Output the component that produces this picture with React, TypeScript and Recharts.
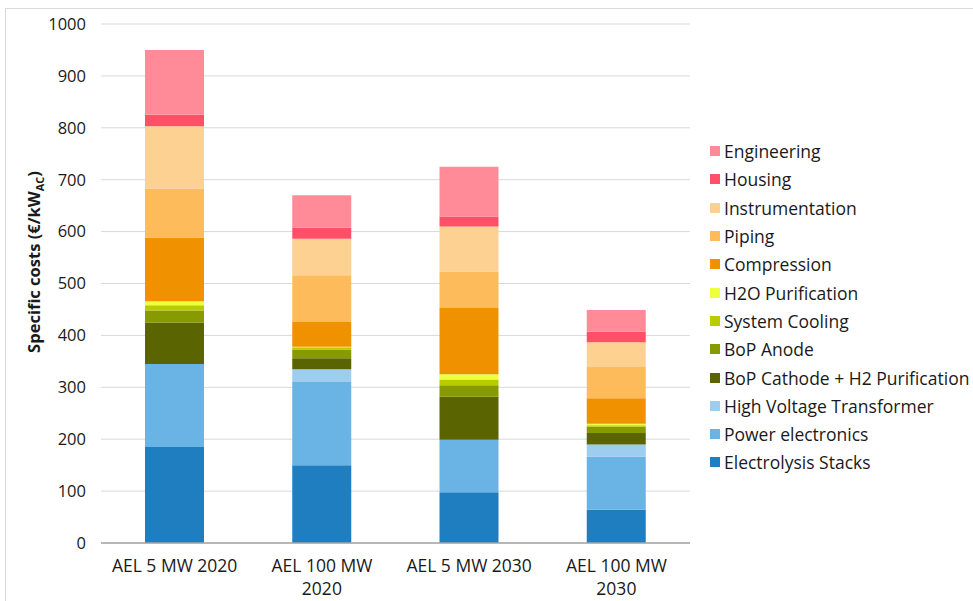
import React from 'react';
import { BarChart, Bar, XAxis, YAxis, CartesianGrid } from 'recharts';

const categories = ['AEL 5 MW 2020', 'AEL 100 MW 2020', 'AEL 5 MW 2030', 'AEL 100 MW 2030'];

// stacking order: bottom -> top
const seriesNames = [
  'Electrolysis Stacks',
  'Power electronics',
  'High Voltage Transformer',
  'BoP Cathode + H2 Purification',
  'BoP Anode',
  'System Cooling',
  'H2O Purification',
  'Compression',
  'Piping',
  'Instrumentation',
  'Housing',
  'Engineering',
];

const seriesColors = [
  '#1F7EC0',
  '#69B3E5',
  '#9DCDEF',
  '#5A6400',
  '#879A00',
  '#B8CC00',
  '#EEFF3C',
  '#F09200',
  '#FDBB5C',
  '#FDD192',
  '#FF5068',
  '#FF8B99',
];

const electrolysisStacks = [185, 150, 98, 64];
const powerElectronics = [160, 160, 101, 102];
const highVoltageTransformer = [0, 25, 0, 24];
const bopCathode = [80, 21, 83, 22];
const bopAnode = [23, 17, 22, 12];
const systemCooling = [10, 4, 11, 3];
const h2oPurification = [8, 1, 10, 3];
const compression = [122, 48, 128, 49];
const piping = [95, 90, 70, 60];
const instrumentation = [120, 70, 87, 48];
const housing = [22, 22, 19, 20];
const engineering = [125, 62, 96, 42];

const seriesValues = [
  electrolysisStacks,
  powerElectronics,
  highVoltageTransformer,
  bopCathode,
  bopAnode,
  systemCooling,
  h2oPurification,
  compression,
  piping,
  instrumentation,
  housing,
  engineering,
];

const yTicks = [0, 100, 200, 300, 400, 500, 600, 700, 800, 900, 1000];

const data = categories.map((c, i) => {
  const row: Record<string, any> = { name: c };
  seriesNames.forEach((s, j) => {
    row[s] = seriesValues[j][i];
  });
  return row;
});

const FONT = '"Open Sans", "Noto Sans", sans-serif';
const TEXT = '#1a1a1a';

function wrapLabel(s: string): string[] {
  if (s.length <= 14) return [s];
  const idx = s.lastIndexOf(' ');
  return [s.slice(0, idx), s.slice(idx + 1)];
}

const XTick = (props: any) => {
  const { x, y, payload } = props;
  const lines = wrapLabel(String(payload.value));
  return (
    <text x={x} y={y} textAnchor="middle" fontFamily={FONT} fontSize={17.5} fill={TEXT}>
      {lines.map((l, i) => (
        <tspan key={i} x={x} dy={i === 0 ? 21 : 23}>
          {l}
        </tspan>
      ))}
    </text>
  );
};

const LegendBox = () => {
  const items = seriesNames.map((n, i) => ({ n, c: seriesColors[i] })).reverse();
  return (
    <div
      style={{
        position: 'absolute',
        left: 710,
        top: 137,
        fontFamily: FONT,
        fontSize: 17.5,
        color: TEXT,
      }}
    >
      {items.map((it) => (
        <div key={it.n} style={{ display: 'flex', alignItems: 'center', height: 28.3, whiteSpace: 'nowrap' }}>
          <span style={{ display: 'inline-block', width: 10, height: 10, background: it.c, marginRight: 4 }} />
          <span>{it.n}</span>
        </div>
      ))}
    </div>
  );
};

const YLabel = () => (
  <text
    transform="translate(40, 262) rotate(-90)"
    textAnchor="middle"
    fontFamily={FONT}
    fontSize={16.5}
    fontWeight="bold"
    fill={TEXT}
  >
    Specific costs (€/kW
    <tspan fontSize={11} dy={4}>AC</tspan>
    <tspan dy={-4}>)</tspan>
  </text>
);

export default function App() {
  return (
    <div style={{ position: 'absolute', left: 0, top: 0, width: 973, height: 601, background: '#fff', overflow: 'hidden' }}>
      <div
        style={{
          position: 'absolute',
          left: 5,
          top: 8,
          width: 975,
          height: 600,
          border: '1px solid #d9d9d9',
          boxSizing: 'border-box',
        }}
      />
      <BarChart
        width={973}
        height={601}
        data={data}
        margin={{ top: 24, right: 283, left: 0, bottom: 0 }}
        barSize={59}
      >
        <CartesianGrid vertical={false} stroke="#d9d9d9" strokeWidth={1} />
        <XAxis
          dataKey="name"
          height={58}
          tickLine={false}
          axisLine={{ stroke: '#a6a6a6', strokeWidth: 1.5 }}
          tick={<XTick />}
          interval={0}
        />
        <YAxis
          width={101}
          domain={[0, 1000]}
          ticks={yTicks}
          axisLine={false}
          tickLine={false}
          tickSize={0}
          tickMargin={15}
          tick={{ fontFamily: FONT, fontSize: 16.5, fill: TEXT }}
          label={<YLabel />}
        />
        {seriesNames.map((s, i) => (
          <Bar key={s} dataKey={s} stackId="a" fill={seriesColors[i]} isAnimationActive={false} />
        ))}
      </BarChart>
      <LegendBox />
    </div>
  );
}
